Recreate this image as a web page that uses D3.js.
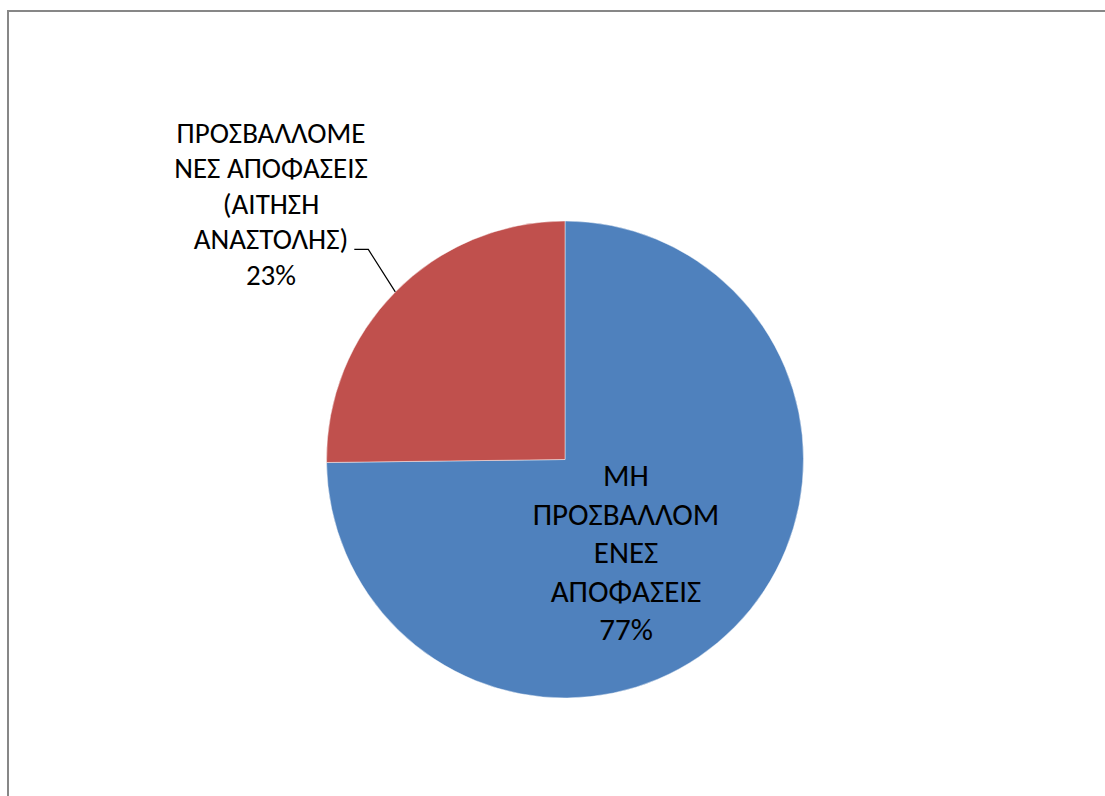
<!DOCTYPE html>
<html>
<head>
<meta charset="utf-8">
<script src="https://cdn.jsdelivr.net/npm/d3@7"></script>
<style>
  html, body { margin: 0; padding: 0; background: #fff; }
  svg { display: block; }
  text { font-family: Calibri, Carlito, "Noto Sans", sans-serif; fill: #000; }
</style>
</head>
<body>
<svg id="chart" width="1105" height="796"></svg>
<script>
// ---- data ----
const categories = [
  "ΜΗ ΠΡΟΣΒΑΛΛΟΜΕΝΕΣ ΑΠΟΦΑΣΕΙΣ",
  "ΠΡΟΣΒΑΛΛΟΜΕΝΕΣ ΑΠΟΦΑΣΕΙΣ (ΑΙΤΗΣΗ ΑΝΑΣΤΟΛΗΣ)"
];
const values = [74.8, 25.2];             // slice sizes
const percentLabels = ["77%", "23%"];    // printed labels
const labelLines = [
  ["ΜΗ", "ΠΡΟΣΒΑΛΛΟΜ", "ΕΝΕΣ", "ΑΠΟΦΑΣΕΙΣ"],
  ["ΠΡΟΣΒΑΛΛΟΜΕ", "ΝΕΣ ΑΠΟΦΑΣΕΙΣ", "(ΑΙΤΗΣΗ", "ΑΝΑΣΤΟΛΗΣ)"]
];
const colors = ["#4F81BD", "#C0504D"];

// ---- layout ----
const svg = d3.select("#chart");
const cx = 565, cy = 459.5, R = 238.5;

// chart frame (cut off at right/bottom)
svg.append("rect")
  .attr("x", 8).attr("y", 11)
  .attr("width", 1200).attr("height", 1000)
  .attr("fill", "none").attr("stroke", "#878787").attr("stroke-width", 2);

const pie = d3.pie().sort(null).value(d => d)
  .startAngle(0).endAngle(2 * Math.PI);
const arcs = pie(values);
const arc = d3.arc().innerRadius(0).outerRadius(R);

const g = svg.append("g").attr("transform", `translate(${cx},${cy})`);
g.selectAll("path.slice")
  .data(arcs)
  .join("path")
  .attr("class", "slice")
  .attr("d", arc)
  .attr("fill", (d, i) => colors[i])
  .attr("stroke", "rgba(255,255,255,0.45)")
  .attr("stroke-width", 1);

// inside label for slice 0
const blue = { x: 626, y0: 486, lh: 38.5, size: 31 };
const t0 = svg.append("text")
  .attr("text-anchor", "middle")
  .style("font-size", blue.size + "px");
labelLines[0].concat([percentLabels[0]]).forEach((s, i) => {
  t0.append("tspan").attr("x", blue.x).attr("y", blue.y0 + i * blue.lh).text(s);
});

// outside label for slice 1
const red = { x: 271, y0: 143, lh: 35.4, size: 29 };
const t1 = svg.append("text")
  .attr("text-anchor", "middle")
  .style("font-size", red.size + "px");
labelLines[1].concat([percentLabels[1]]).forEach((s, i) => {
  t1.append("tspan").attr("x", red.x).attr("y", red.y0 + i * red.lh).text(s);
});

// leader line for slice 1
const a1 = arcs[1];
const mid = (a1.startAngle + a1.endAngle) / 2;
const ex = cx + R * Math.sin(mid), ey = cy - R * Math.cos(mid);
const elbow = [ex - 27, ey - 42.5];
svg.append("polyline")
  .attr("points", [[elbow[0] - 14, elbow[1]], elbow, [ex, ey]].map(p => p.join(",")).join(" "))
  .attr("fill", "none").attr("stroke", "#000").attr("stroke-width", 1.2);
</script>
</body>
</html>
